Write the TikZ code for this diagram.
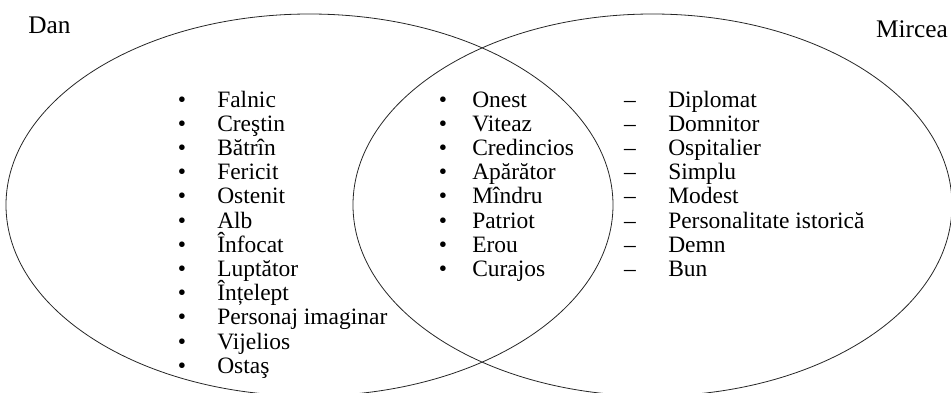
\documentclass[tikz,border=0pt]{standalone}
\usepackage{fontspec}
\setmainfont{Liberation Serif}
\tikzset{
	word/.style={inner sep=0pt, anchor=base west, font=\fontsize{17.6}{20}\selectfont},
	sign/.style={inner sep=0pt, anchor=base, font=\fontsize{17.6}{20}\selectfont},
	who/.style={inner sep=0pt, font=\fontsize{19}{22}\selectfont},
	set/.style={draw=black!85, line width=0.6pt}
}
\begin{document}
\begin{tikzpicture}[x=0.75pt, y=-0.75pt]
				\useasboundingbox (0,0) rectangle (951,393);
				%mengen
				\draw[set] (309.5,205) ellipse [x radius=303.5, y radius=191];
				\draw[set] (652.5,205) ellipse [x radius=299.5, y radius=191];
				\node[who, anchor=base west] (dan) at (28, 33) {Dan};
				\node[who, anchor=base east] (mircea) at (948, 37) {Mircea};
				%liste Dan
				\foreach \w [count=\i from 0] in {Falnic, Creştin, Bătrîn, Fericit, Ostenit, Alb, Înfocat, Luptător, Înțelept, Personaj imaginar, Vijelios, Ostaş} {
					\node[sign] (dp\i) at (182, 107+24.2*\i) {•};
					\node[word] (d\i) at (217, 107+24.2*\i) {\w};
				}
				%liste beide
				\foreach \w [count=\i from 0] in {Onest, Viteaz, Credincios, Apărător, Mîndru, Patriot, Erou, Curajos} {
					\node[sign] (bp\i) at (443, 107+24.2*\i) {•};
					\node[word] (b\i) at (472, 107+24.2*\i) {\w};
				}
				%liste Mircea
				\foreach \w [count=\i from 0] in {Diplomat, Domnitor, Ospitalier, Simplu, Modest, Personalitate istorică, Demn, Bun} {
					\node[sign] (mp\i) at (630, 107+24.2*\i) {–};
					\node[word] (m\i) at (668, 107+24.2*\i) {\w};
				}
\end{tikzpicture}
\end{document}
